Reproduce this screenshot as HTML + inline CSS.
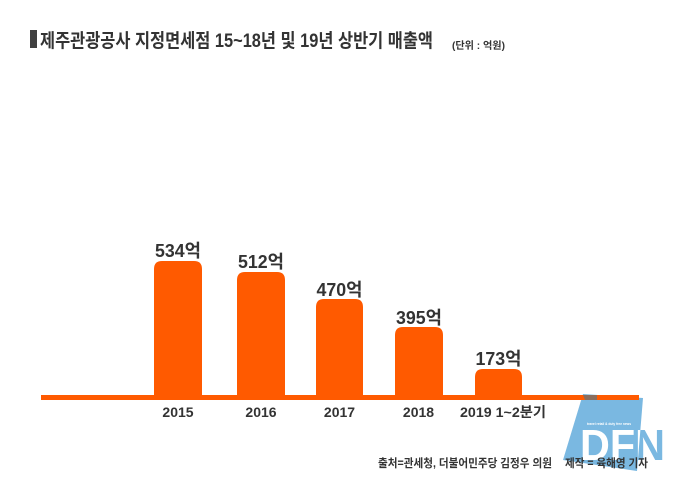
<!DOCTYPE html>
<html><head><meta charset="utf-8"><style>
html,body{margin:0;padding:0;background:#fff;}
svg{display:block;}
text{font-family:"Liberation Sans","Noto Sans CJK KR",sans-serif;font-weight:bold;}
</style></head><body>
<svg width="679" height="485" viewBox="0 0 679 485" xmlns="http://www.w3.org/2000/svg">
<rect width="679" height="485" fill="#fff"/>
<!-- title -->
<rect x="30" y="30" width="7" height="18" fill="#404040"/>
<text x="40" y="47" font-size="19" fill="#333" textLength="393" lengthAdjust="spacingAndGlyphs">제주관광공사 지정면세점 15~18년 및 19년 상반기 매출액</text>
<text x="452" y="49" font-size="10" fill="#333" textLength="53" lengthAdjust="spacingAndGlyphs">(단위 : 억원)</text>
<!-- logo -->
<defs>
<clipPath id="sq"><polygon points="583,394 643,398 637,471 563,460"/></clipPath>
</defs>
<polygon points="583,394 643,398 637,471 563,460" fill="#7ab8e1"/>
<text x="580" y="460" font-size="44" font-family="Liberation Sans, sans-serif" font-weight="normal" fill="#7ab8e1" textLength="85" lengthAdjust="spacingAndGlyphs">DFN</text>
<g clip-path="url(#sq)">
<text x="580" y="460" font-size="44" font-family="Liberation Sans, sans-serif" font-weight="normal" fill="#fff" textLength="85" lengthAdjust="spacingAndGlyphs">DFN</text>
</g>
<text x="587" y="425" font-size="4" font-weight="normal" fill="#fff" textLength="44" lengthAdjust="spacingAndGlyphs">travel retail &amp; duty free news</text>
<!-- bars -->
<g fill="#ff5a00">
<path d="M154,398 V269 Q154,261 162,261 H194 Q202,261 202,269 V398 Z"/>
<path d="M237,398 V280 Q237,272 245,272 H277 Q285,272 285,280 V398 Z"/>
<path d="M316,398 V307 Q316,299 324,299 H355 Q363,299 363,307 V398 Z"/>
<path d="M395,398 V335 Q395,327 403,327 H435 Q443,327 443,335 V398 Z"/>
<path d="M475,398 V377 Q475,369 483,369 H514 Q522,369 522,377 V398 Z"/>
<rect x="41" y="395" width="598" height="5"/>
</g>
<polygon points="583,395 597,395 597,400 585,400" fill="#8a6e5e"/>
<!-- value labels -->
<g font-size="18" fill="#333" text-anchor="middle">
<text x="178" y="257" textLength="46" lengthAdjust="spacingAndGlyphs">534억</text>
<text x="261" y="268" textLength="46" lengthAdjust="spacingAndGlyphs">512억</text>
<text x="339.5" y="296" textLength="46" lengthAdjust="spacingAndGlyphs">470억</text>
<text x="419" y="324" textLength="46" lengthAdjust="spacingAndGlyphs">395억</text>
<text x="498.5" y="365" textLength="46" lengthAdjust="spacingAndGlyphs">173억</text>
</g>
<!-- x labels -->
<g font-size="14" fill="#333">
<text x="178" y="417" text-anchor="middle">2015</text>
<text x="261" y="417" text-anchor="middle">2016</text>
<text x="339.5" y="417" text-anchor="middle">2017</text>
<text x="418.5" y="417" text-anchor="middle">2018</text>
<text x="460" y="417" textLength="86" lengthAdjust="spacingAndGlyphs">2019 1~2분기</text>
</g>
<!-- footer -->
<text x="378" y="467" font-size="11.5" fill="#333" textLength="174" lengthAdjust="spacingAndGlyphs">출처=관세청, 더불어민주당 김정우 의원</text>
<text x="565" y="467" font-size="11.5" fill="#333" textLength="83" lengthAdjust="spacingAndGlyphs">제작 = 육해영 기자</text>
</svg>
</body></html>
